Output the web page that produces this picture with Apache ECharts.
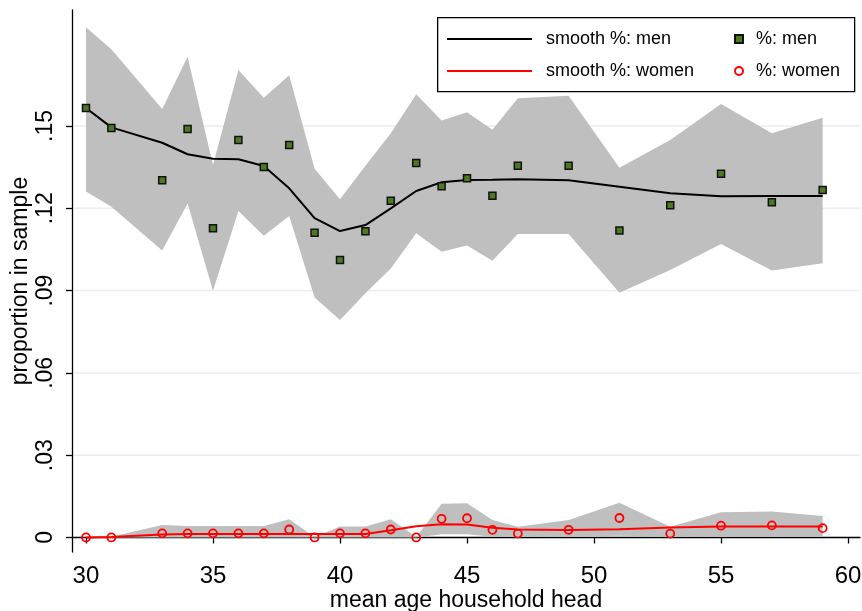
<!DOCTYPE html>
<html>
<head>
<meta charset="utf-8">
<script src="https://cdn.jsdelivr.net/npm/echarts@6/dist/echarts.min.js"></script>
<style>
  html, body { margin: 0; padding: 0; background: #fff; }
  #chart { width: 862px; height: 611px; }
</style>
</head>
<body>
<div id="chart"></div>
<script>
// Mean age of household head (x) and share in sample, by group
const ages = [30, 31, 33, 34, 35, 36, 37, 38, 39, 40, 41, 42, 43, 44, 45, 46, 47, 49, 51, 53, 55, 57, 59];

const menPct    = [0.1566, 0.1493, 0.1302, 0.1489, 0.1127, 0.1449, 0.1351, 0.1431, 0.1111, 0.1012, 0.1116, 0.1228, 0.1365, 0.1280, 0.1310, 0.1246, 0.1355, 0.1355, 0.1119, 0.1211, 0.1326, 0.1222, 0.1267];
const menSmooth = [0.1566, 0.1495, 0.1439, 0.1397, 0.1381, 0.1379, 0.1354, 0.1273, 0.1164, 0.1117, 0.1139, 0.1200, 0.1263, 0.1295, 0.1303, 0.1304, 0.1306, 0.1302, 0.1279, 0.1255, 0.1244, 0.1245, 0.1245];
const menLow    = [0.1261, 0.1206, 0.1046, 0.1218, 0.0899, 0.1190, 0.1100, 0.1172, 0.0875, 0.0793, 0.0890, 0.0981, 0.1109, 0.1042, 0.1064, 0.1009, 0.1106, 0.1106, 0.0892, 0.0975, 0.1070, 0.0973, 0.1000];
const menHigh   = [0.1860, 0.1780, 0.1562, 0.1753, 0.1358, 0.1704, 0.1603, 0.1685, 0.1344, 0.1233, 0.1355, 0.1474, 0.1616, 0.1520, 0.1550, 0.1486, 0.1601, 0.1610, 0.1348, 0.1449, 0.1580, 0.1474, 0.1530];

const womenPct    = [0, 0, 0.0015, 0.0015, 0.0015, 0.0015, 0.0015, 0.0029, 0, 0.0015, 0.0015, 0.0029, 0, 0.0068, 0.0070, 0.0028, 0.0014, 0.0028, 0.0071, 0.0014, 0.0043, 0.0044, 0.0034];
const womenSmooth = [0, 0.0002, 0.0011, 0.0013, 0.0013, 0.0013, 0.0013, 0.0013, 0.0013, 0.0013, 0.0013, 0.0026, 0.0041, 0.0048, 0.0047, 0.0035, 0.0029, 0.0027, 0.0030, 0.0036, 0.0040, 0.0040, 0.0040];
const womenLow    = [0, 0, 0, 0, 0, 0, 0, 0, 0, 0, 0, 0, 0, 0.0012, 0.0012, 0.0003, 0.0003, 0.0003, 0.0006, 0.0003, 0.0003, 0.0003, 0.0003];
const womenHigh   = [0, 0.0003, 0.0045, 0.0042, 0.0042, 0.0042, 0.0042, 0.0066, 0.0002, 0.0040, 0.0040, 0.0066, 0.0002, 0.0123, 0.0125, 0.0064, 0.0039, 0.0064, 0.0127, 0.0039, 0.0092, 0.0095, 0.0078];

const xTicks = [30, 35, 40, 45, 50, 55, 60];
const yTicks = [0, 0.03, 0.06, 0.09, 0.12, 0.15];
const yTickText = ['0', '.03', '.06', '.09', '.12', '.15'];

const FONT = '"Liberation Sans", Arial, Helvetica, sans-serif';

const pairs = (ys) => ages.map((a, i) => [a, ys[i]]);

// Confidence band drawn as one polygon through the axis scales
function bandSeries(name, low, high) {
  return {
    name: name,
    type: 'custom',
    data: ages.map((a, i) => [a, low[i], high[i]]),
    encode: { x: 0, y: [1, 2] },
    z: 1,
    silent: true,
    renderItem: function (params, api) {
      if (params.dataIndex !== 0) return null;
      const pts = [];
      for (let i = 0; i < ages.length; i++) pts.push(api.coord([ages[i], high[i]]));
      for (let i = ages.length - 1; i >= 0; i--) pts.push(api.coord([ages[i], low[i]]));
      return { type: 'polygon', shape: { points: pts }, style: { fill: '#bfbfbf', stroke: null } };
    }
  };
}

// Light horizontal reference lines at each y tick, kept behind the bands
const gridLineSeries = {
  type: 'custom',
  data: yTicks.map(v => [v]),
  encode: { y: 0 },
  z: 0,
  silent: true,
  renderItem: function (params, api) {
    const cs = params.coordSys;
    const y = api.coord([30, api.value(0)])[1];
    return {
      type: 'line',
      shape: { x1: cs.x + 2, y1: y, x2: cs.x + cs.width, y2: y },
      style: { stroke: '#e7eef2', lineWidth: 1.5 }
    };
  }
};

const chart = echarts.init(document.getElementById('chart'), null, { renderer: 'canvas' });

chart.setOption({
  animation: false,
  backgroundColor: '#fff',
  textStyle: { fontFamily: FONT },
  grid: { left: 72, top: 10, right: 2, bottom: 59, containLabel: false, outerBoundsMode: 'none' },
  xAxis: {
    type: 'value',
    min: 29.45,
    max: 60.47,
    name: 'mean age household head',
    nameLocation: 'middle',
    nameGap: 37,
    nameMoveOverlap: false,
    nameTextStyle: { fontSize: 23, color: '#000', fontFamily: FONT },
    axisLine: { show: true, lineStyle: { color: '#000', width: 1.3 } },
    axisTick: { show: true, length: 6, lineStyle: { color: '#000', width: 1.3 }, customValues: xTicks },
    axisLabel: { fontSize: 24, color: '#000', margin: 12, fontFamily: FONT, customValues: xTicks },
    splitLine: { show: false }
  },
  yAxis: {
    type: 'value',
    min: -0.0053,
    max: 0.1923,
    name: 'proportion in sample',
    nameLocation: 'middle',
    nameGap: 40,
    nameMoveOverlap: false,
    nameTextStyle: { fontSize: 23, color: '#000', fontFamily: FONT },
    axisLine: { show: true, lineStyle: { color: '#000', width: 1.3 } },
    axisTick: { show: true, length: 6, lineStyle: { color: '#000', width: 1.3 }, customValues: yTicks },
    axisLabel: {
      fontSize: 23, color: '#000', margin: 15, rotate: 90, fontFamily: FONT,
      customValues: yTicks,
      formatter: function (v) {
        const i = yTicks.findIndex(t => Math.abs(t - v) < 1e-9);
        return i >= 0 ? yTickText[i] : '';
      }
    },
    splitLine: { show: false }
  },
  legend: [
    {
      data: ['smooth %: men', 'smooth %: women'],
      orient: 'vertical',
      left: 447, top: 29,
      icon: 'rect',
      itemWidth: 85, itemHeight: 2, itemGap: 12,
      padding: 0,
      z: 10,
      textStyle: { fontSize: 18, color: '#000', fontFamily: FONT, lineHeight: 20, padding: [0, 0, 0, 9] },
      selectedMode: false
    },
    {
      data: ['%: men', '%: women'],
      orient: 'vertical',
      left: 734, top: 29,
      itemWidth: 8, itemHeight: 8, itemGap: 12,
      padding: 0,
      z: 10,
      textStyle: { fontSize: 18, color: '#000', fontFamily: FONT, lineHeight: 20, padding: [0, 0, 0, 8] },
      selectedMode: false
    }
  ],
  graphic: [
    {
      type: 'rect',
      left: 437, top: 17,
      shape: { width: 417, height: 74 },
      style: { fill: '#fff', stroke: '#000', lineWidth: 1.3 },
      z: 2
    }
  ],
  series: [
    gridLineSeries,
    bandSeries('band men', menLow, menHigh),
    bandSeries('band women', womenLow, womenHigh),
    {
      name: 'smooth %: men',
      type: 'line',
      data: pairs(menSmooth),
      symbol: 'none',
      z: 3,
      lineStyle: { color: '#000', width: 2 },
      itemStyle: { color: '#000' }
    },
    {
      name: 'smooth %: women',
      type: 'line',
      data: pairs(womenSmooth),
      symbol: 'none',
      z: 3,
      lineStyle: { color: '#ff0000', width: 2 },
      itemStyle: { color: '#ff0000' }
    },
    {
      name: '%: men',
      type: 'scatter',
      data: pairs(menPct),
      symbol: 'rect',
      symbolSize: 7,
      z: 4,
      itemStyle: { color: '#4b7a1f', borderColor: '#111', borderWidth: 1.5, opacity: 1 }
    },
    {
      name: '%: women',
      type: 'scatter',
      data: pairs(womenPct),
      symbol: 'circle',
      symbolSize: 8,
      z: 4,
      itemStyle: { color: 'rgba(255,255,255,0)', borderColor: '#ff0000', borderWidth: 1.8, opacity: 1 }
    }
  ]
});
</script>
</body>
</html>
